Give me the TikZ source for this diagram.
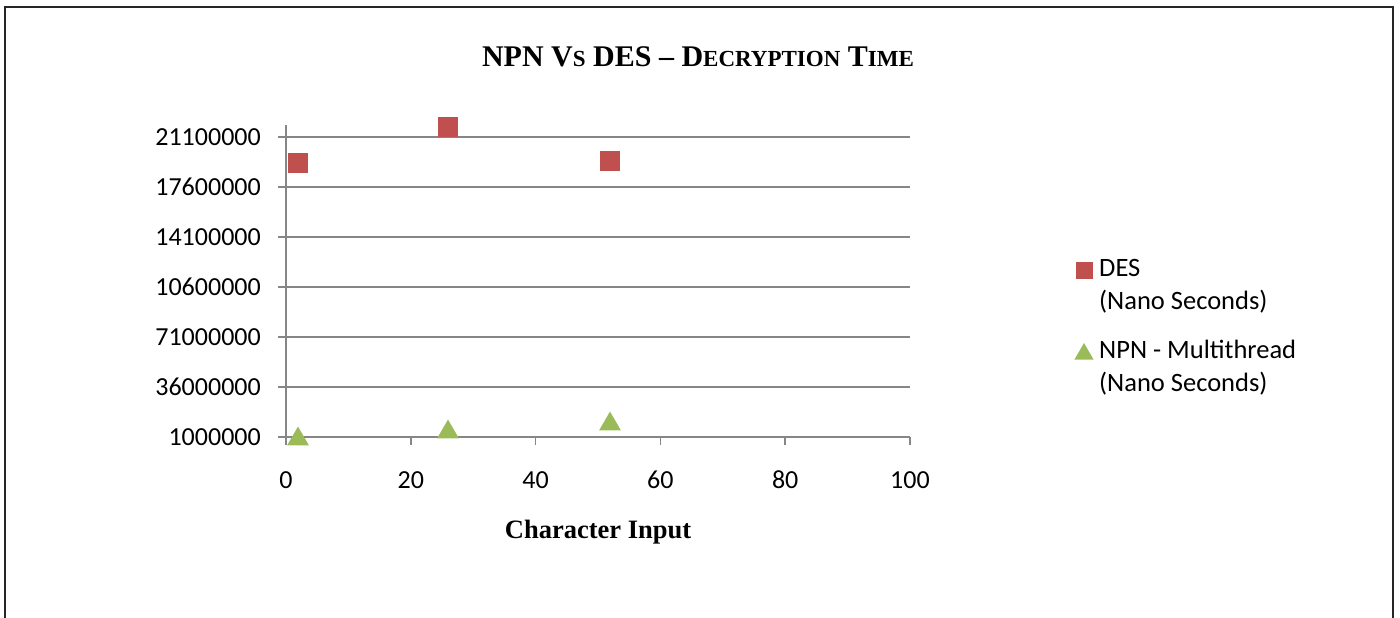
\documentclass[tikz,border=0pt]{standalone}
\usepackage{fontspec}
\setmainfont{Liberation Serif}
\newfontfamily\calib{Carlito}
\usetikzlibrary{shapes.geometric}
\definecolor{desred}{HTML}{C0504D}
\definecolor{npngreen}{HTML}{9BBB59}
\definecolor{gridgray}{HTML}{868686}
\newcommand{\smc}{\fontsize{23}{26}\selectfont}

\begin{document}
\begin{tikzpicture}[x=1pt, y=-1pt,
    grid/.style={gridgray, line width=1.5pt},
    ticklab/.style={font=\calib\fontsize{26}{29}\selectfont, inner sep=0pt},
    desmark/.style={rectangle, fill=desred, minimum size=20pt, inner sep=0pt},
    npnmark/.style={regular polygon, regular polygon sides=3, fill=npngreen, minimum size=25pt, inner sep=0pt},
    legtext/.style={font=\calib\fontsize{26.5}{33}\selectfont, align=left, anchor=north west, inner sep=0pt}]
    \useasboundingbox (0,0) rectangle (1400,618);
    % frame, open at the bottom
    \draw[line width=2pt, black!85] (5,618) -- (5,7) -- (1393,7) -- (1393,618);
    % title
    \node (title) at (698,57) {\fontsize{30}{34}\selectfont\bfseries NPN V{\smc S} DES -- D{\smc ECRYPTION} T{\smc IME}};
    % gridlines and y labels
    \foreach \i/\lab in {0/1000000,1/36000000,2/71000000,3/10600000,4/14100000,5/17600000,6/21100000} {
        \draw[grid] (278,437-50*\i) -- (910,437-50*\i);
        \node[ticklab, anchor=east] (ylab\i) at (261,437-50*\i) {\lab};
    }
    % axes
    \draw[grid] (286,437) -- (286,125);
    \foreach \i in {0,1,...,5} {
        \draw[grid] (286+124.8*\i,437) -- (286+124.8*\i,445);
        \pgfmathtruncatemacro{\xv}{20*\i}
        \node[ticklab] (xlab\i) at (286+124.8*\i,480) {\xv};
    }
    \node (xtitle) at (598,532) {\fontsize{26.5}{30}\selectfont\bfseries Character Input};
    % data points
    \node[desmark] (des1) at (298,163) {};
    \node[desmark] (des2) at (448,127) {};
    \node[desmark] (des3) at (610,161) {};
    \node[npnmark] (npn1) at (298,439) {};
    \node[npnmark] (npn2) at (448,432) {};
    \node[npnmark] (npn3) at (610,424) {};
    % legend
    \node[desmark, minimum size=17pt] (legdes) at (1084,270) {};
    \node[legtext] (legdestext) at (1099,259) {DES\\(Nano Seconds)};
    \node[npnmark, minimum size=22pt] (legnpn) at (1084,354) {};
    \node[legtext] (legnpntext) at (1099,340) {NPN - Multithread\\(Nano Seconds)};
\end{tikzpicture}
\end{document}
